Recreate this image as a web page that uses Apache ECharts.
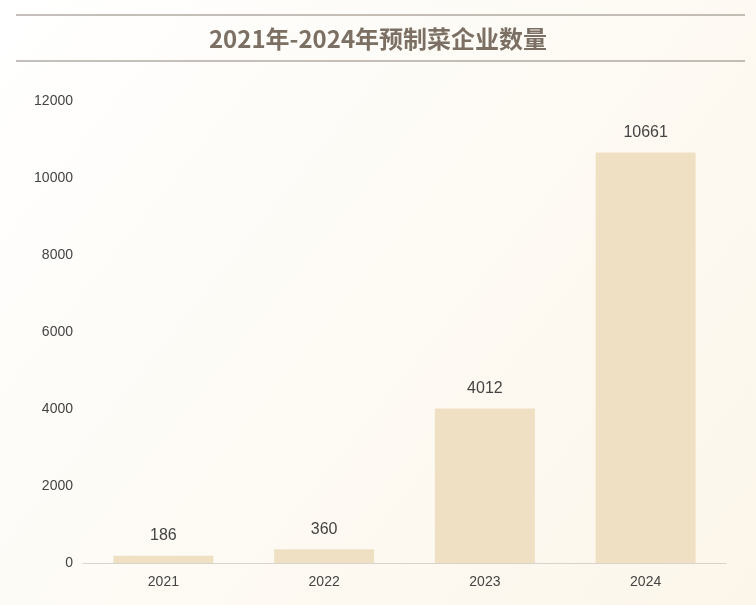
<!DOCTYPE html>
<html>
<head>
<meta charset="utf-8">
<script src="https://cdn.jsdelivr.net/npm/echarts@6/dist/echarts.min.js"></script>
<style>html,body{margin:0;padding:0;}#main{width:756px;height:605px;}</style>
</head>
<body>
<div id="main"></div>
<script>
var years = ['2021', '2022', '2023', '2024'];
var counts = [186, 360, 4012, 10661];

var chart = echarts.init(document.getElementById('main'));

var option = {
    backgroundColor: new echarts.graphic.LinearGradient(0, 0, 1, 1, [
        { offset: 0, color: '#ffffff' },
        { offset: 1, color: '#fcf6ea' }
    ]),
    title: {
        text: '2021年-2024年预制菜企业数量',
        left: 'center',
        top: 22,
        textStyle: {
            color: '#7b7063',
            fontSize: 24,
            fontWeight: 'bold',
            fontFamily: 'Noto Sans CJK SC'
        }
    },
    graphic: [
        { type: 'line', shape: { x1: 16, y1: 15, x2: 745, y2: 15 }, style: { stroke: '#8a8076', lineWidth: 1.2 } },
        { type: 'line', shape: { x1: 16, y1: 61, x2: 745, y2: 61 }, style: { stroke: '#8a8076', lineWidth: 1.2 } }
    ],
    grid: { left: 83, right: 30, top: 101, bottom: 42 },
    xAxis: {
        type: 'category',
        data: years,
        axisLine: { lineStyle: { color: '#d8d4cc' } },
        axisTick: { show: false },
        axisLabel: { color: '#444', fontSize: 14, margin: 12 }
    },
    yAxis: {
        type: 'value',
        min: 0,
        max: 12000,
        interval: 2000,
        splitLine: { show: false },
        axisLine: { show: false },
        axisTick: { show: false },
        axisLabel: { color: '#444', fontSize: 14, margin: 10, formatter: function (v) { return String(v); } }
    },
    series: [{
        type: 'bar',
        data: counts,
        barWidth: 100,
        itemStyle: { color: '#f0e0c3' },
        label: { show: true, position: 'top', distance: 12, color: '#444', fontSize: 16 }
    }]
};

chart.setOption(option);
window.onresize = chart.resize;
</script>
</body>
</html>
